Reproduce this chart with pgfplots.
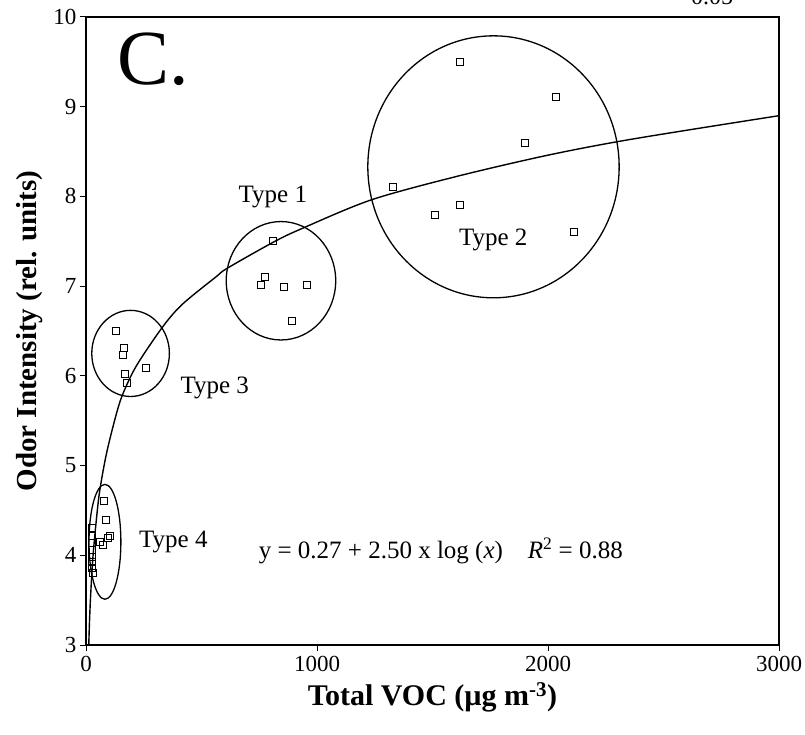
\documentclass[border=0pt]{standalone}
\usepackage{fontspec}
\setmainfont{Liberation Serif}
\usepackage{pgfplots}
\pgfplotsset{compat=1.18}
\begin{document}
\begin{tikzpicture}
\begin{axis}[
  at={(86pt,89pt)}, anchor=south west,
  scale only axis, width=693pt, height=628pt,
  xmin=0, xmax=3000, ymin=3, ymax=10,
  xtick={0,1000,2000,3000}, ytick={3,4,...,10},
  xtick pos=bottom, ytick pos=left,
  tick align=outside,
  major tick length=6pt,
  axis line style={line width=1.4pt},
  every tick/.style={line width=1pt, black},
  tick label style={font=\fontsize{23}{23}\selectfont},
  xticklabel style={yshift=-2pt},
  /pgf/number format/assume math mode=true,
  /pgf/number format/1000 sep={},
  xlabel={\textbf{Total VOC (µg m\textsuperscript{-3})}},
  ylabel={\textbf{Odor Intensity (rel. units)}},
  xlabel style={font=\fontsize{30}{30}\selectfont, yshift=-4pt},
  ylabel style={font=\fontsize{29}{29}\selectfont, yshift=4pt},
  clip=false,
]
% fitted curve
\addplot[smooth, line width=1.4pt, no marks] coordinates {
 (12,3.0) (15,3.25) (20,3.55) (30,3.98) (45,4.40) (60,4.73) (90,5.15)
 (134,5.60) (163,5.82) (220,6.12) (333,6.55) (418,6.80) (561,7.10)
 (612,7.20) (811,7.49) (933,7.64) (1233,7.96) (1600,8.22) (2000,8.46)
 (2367,8.64) (3000,8.90)};
% Type 2
\addplot[only marks, mark=square, mark size=3.5pt, mark options={line width=1pt}] coordinates {
 (1620,9.50) (2034,9.11) (1900,8.60) (1329,8.10) (1619,7.90) (1511,7.79) (2113,7.60)};
% Type 1
\addplot[only marks, mark=square, mark size=3.5pt, mark options={line width=1pt}] coordinates {
 (811,7.50) (776,7.10) (758,7.01) (856,6.99) (957,7.01) (891,6.61)};
% Type 3
\addplot[only marks, mark=square, mark size=3.5pt, mark options={line width=1pt}] coordinates {
 (132,6.50) (166,6.31) (161,6.23) (259,6.09) (170,6.02) (177,5.92)};
% Type 4
\addplot[only marks, mark=square, mark size=3.5pt, mark options={line width=1pt}] coordinates {
 (79,4.60) (86,4.39) (96,4.19) (61,4.15) (75,4.12) (105,4.21)
 (25,4.30) (25,4.22) (25,4.14) (25,4.06) (28,3.98) (28,3.92) (28,3.86) (30,3.80)};
% group outlines
\draw[line width=1.3pt] (axis cs:1764,8.33) ellipse [x radius=544, y radius=1.46];
\draw[line width=1.3pt] (axis cs:844,7.06) ellipse [x radius=237, y radius=0.66];
\draw[line width=1.3pt] (axis cs:193,6.25) ellipse [x radius=168, y radius=0.48];
\draw[line width=1.3pt] (axis cs:82,4.15) ellipse [x radius=69, y radius=0.64];
% labels
\node[font=\fontsize{25}{25}\selectfont] at (axis cs:809,7.99) {Type 1};
\node[font=\fontsize{25}{25}\selectfont] at (axis cs:1763,7.51) {Type 2};
\node[font=\fontsize{25}{25}\selectfont, anchor=west] at (axis cs:394,5.86) {Type 3};
\node[font=\fontsize{25}{25}\selectfont, anchor=west] at (axis cs:215,4.15) {Type 4};
\node[font=\fontsize{25}{25}\selectfont] at (axis cs:1536,4.05)
  {y = 0.27 + 2.50 x log (\textit{x})\hspace{1em}\textit{R}\textsuperscript{2} = 0.88};
\node[font=\fontsize{78}{78}\selectfont, anchor=west] at (rel axis cs:0.04,0.933) {C.};
\end{axis}
\node[font=\fontsize{24}{24}\selectfont] at (712pt,737pt) {0.05};
\pgfresetboundingbox
\path[use as bounding box] (0,0) rectangle (805pt,734pt);
\end{tikzpicture}
\end{document}
